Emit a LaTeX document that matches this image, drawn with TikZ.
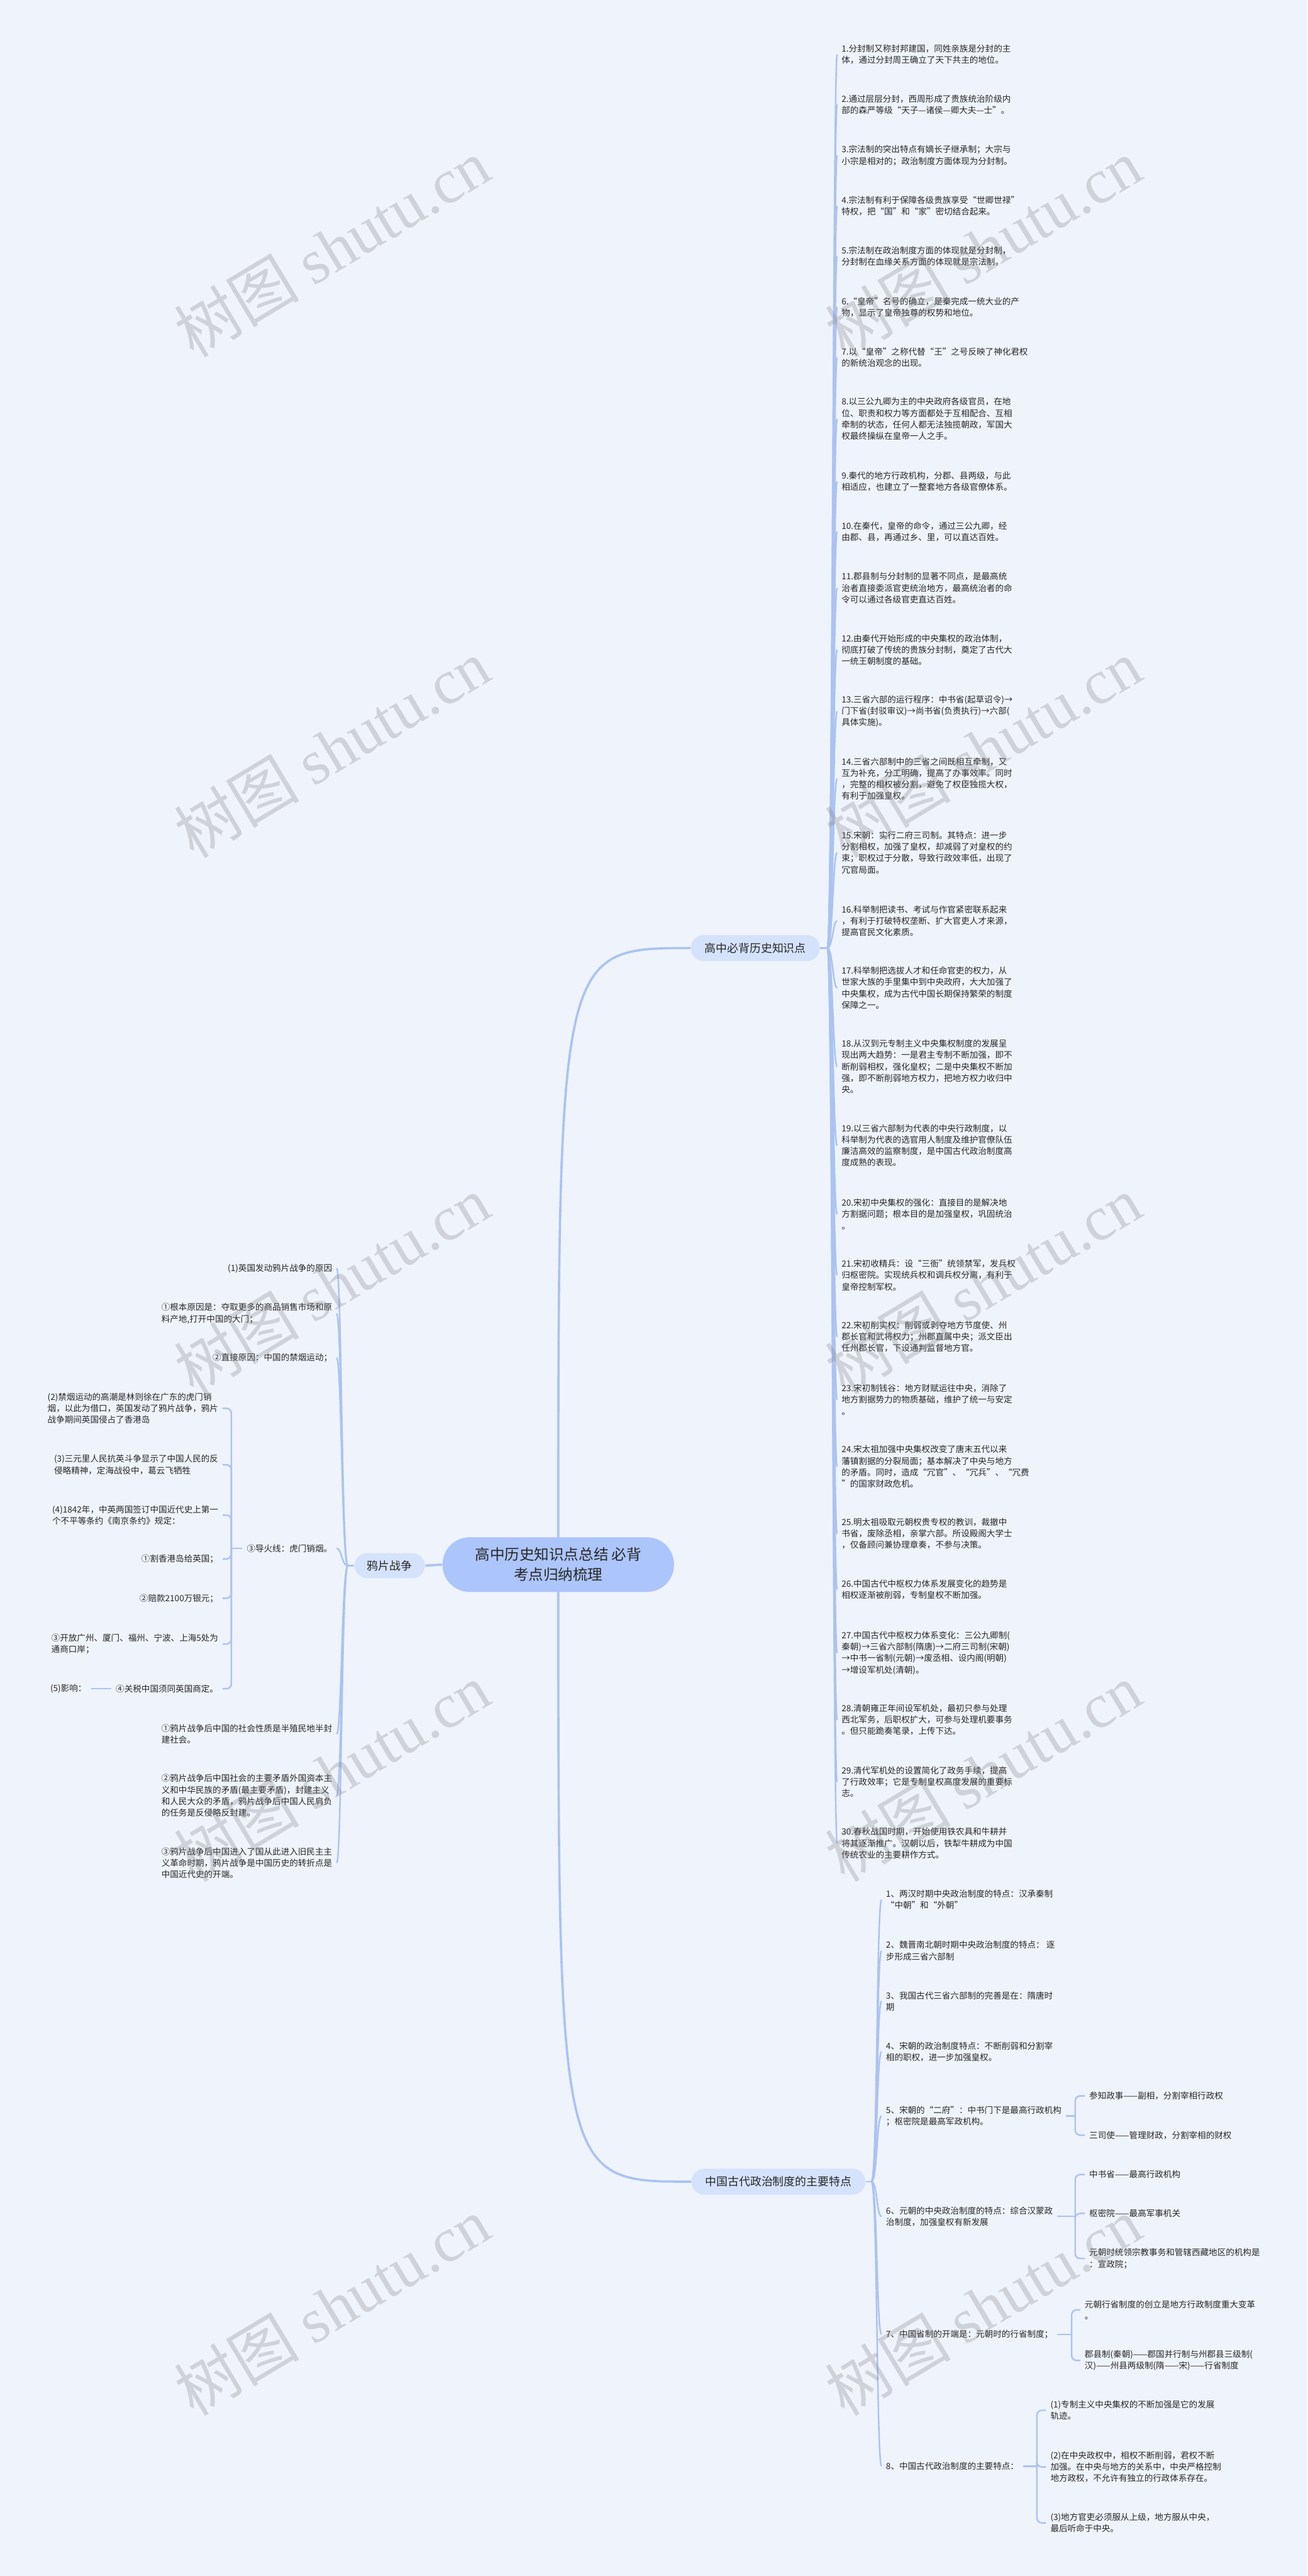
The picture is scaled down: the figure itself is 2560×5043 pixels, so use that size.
\documentclass[tikz,border=0pt]{standalone}
\usepackage{fontspec}
\setmainfont{Noto Sans CJK SC}
\newfontfamily\wmlatin{Liberation Serif}
\usetikzlibrary{backgrounds}
\definecolor{bgc}{RGB}{239,243,252}
\definecolor{lnc}{RGB}{170,195,242}
\definecolor{cfill}{RGB}{172,197,250}
\definecolor{bfill}{RGB}{212,226,252}
\definecolor{txc}{RGB}{40,40,40}
\newcommand\leaff{\fontsize{4.75pt}{6.37pt}\selectfont}
\newcommand\brf{\fontsize{6.26pt}{7pt}\selectfont}
\newcommand\ctrf{\fontsize{8.25pt}{11.1pt}\selectfont}
\newcommand\wmf{\fontsize{35pt}{36pt}\selectfont}
\tikzset{
 leaf/.style={inner xsep=0.08cm, inner ysep=0.02cm, align=left, font=\leaff, text=txc, anchor=west},
 leafr/.style={leaf, anchor=east},
 con/.style={draw=lnc, line width=0.03cm},
 maincon/.style={draw=lnc, line width=0.045cm},
 brk/.style={draw=lnc, line width=0.03cm, rounded corners=0.1cm},
 branch/.style={fill=bfill, rounded corners=0.25cm, font=\brf, text=txc, inner sep=0pt, minimum height=0.51cm},
 wm/.style={rotate=31, text=gray, opacity=0.28, font=\wmf}
}
\begin{document}
\begin{tikzpicture}[x=0.01cm,y=-0.01cm]
\useasboundingbox (0,0) rectangle (2560,5043);

% ---- central and branch nodes
\node[fill=cfill, rounded corners=0.53cm, minimum width=4.53cm, minimum height=1.07cm, align=center, font=\ctrf, text=txc, inner sep=0pt] (ctr) at (1093,3063) {高中历史知识点总结 必背\\考点归纳梳理};
\node[branch, minimum width=2.52cm] (b1) at (1479,1856) {高中必背历史知识点};
\node[branch, minimum width=3.40cm] (b2) at (1524,4271) {中国古代政治制度的主要特点};
\node[branch, minimum width=1.38cm, minimum height=0.49cm] (b3) at (763,3065) {鸦片战争};

% ---- right column
\node[leaf] (r1) at (1639,106.5) {1.分封制又称封邦建国，同姓亲族是分封的主\\体，通过分封周王确立了天下共主的地位。};
\node[leaf] (r2) at (1639,204.5) {2.通过层层分封，西周形成了贵族统治阶级内\\部的森严等级“天子—诸侯—卿大夫—士”。};
\node[leaf] (r3) at (1639,304.5) {3.宗法制的突出特点有嫡长子继承制；大宗与\\小宗是相对的；政治制度方面体现为分封制。};
\node[leaf] (r4) at (1639,403.5) {4.宗法制有利于保障各级贵族享受“世卿世禄”\\特权，把“国”和“家”密切结合起来。};
\node[leaf] (r5) at (1639,501.5) {5.宗法制在政治制度方面的体现就是分封制，\\分封制在血缘关系方面的体现就是宗法制。};
\node[leaf] (r6) at (1639,601) {6.“皇帝”名号的确立，是秦完成一统大业的产\\物，显示了皇帝独尊的权势和地位。};
\node[leaf] (r7) at (1639,700) {7.以“皇帝”之称代替“王”之号反映了神化君权\\的新统治观念的出现。};
\node[leaf] (r8) at (1639,820) {8.以三公九卿为主的中央政府各级官员，在地\\位、职责和权力等方面都处于互相配合、互相\\牵制的状态，任何人都无法独揽朝政，军国大\\权最终操纵在皇帝一人之手。};
\node[leaf] (r9) at (1639,942.5) {9.秦代的地方行政机构，分郡、县两级，与此\\相适应，也建立了一整套地方各级官僚体系。};
\node[leaf] (r10) at (1639,1040.5) {10.在秦代，皇帝的命令，通过三公九卿，经\\由郡、县，再通过乡、里，可以直达百姓。};
\node[leaf] (r11) at (1639,1151) {11.郡县制与分封制的显著不同点，是最高统\\治者直接委派官吏统治地方，最高统治者的命\\令可以通过各级官吏直达百姓。};
\node[leaf] (r12) at (1639,1272) {12.由秦代开始形成的中央集权的政治体制，\\彻底打破了传统的贵族分封制，奠定了古代大\\一统王朝制度的基础。};
\node[leaf] (r13) at (1639,1392.5) {13.三省六部的运行程序：中书省(起草诏令)→\\门下省(封驳审议)→尚书省(负责执行)→六部(\\具体实施)。};
\node[leaf] (r14) at (1639,1524.5) {14.三省六部制中的三省之间既相互牵制，又\\互为补充，分工明确，提高了办事效率。同时\\，完整的相权被分割，避免了权臣独揽大权，\\有利于加强皇权。};
\node[leaf] (r15) at (1639,1669) {15.宋朝：实行二府三司制。其特点：进一步\\分割相权，加强了皇权，却减弱了对皇权的约\\束；职权过于分散，导致行政效率低，出现了\\冗官局面。};
\node[leaf] (r16) at (1639,1802.5) {16.科举制把读书、考试与作官紧密联系起来\\，有利于打破特权垄断、扩大官吏人才来源，\\提高官民文化素质。};
\node[leaf] (r17) at (1639,1934) {17.科举制把选拔人才和任命官吏的权力，从\\世家大族的手里集中到中央政府，大大加强了\\中央集权，成为古代中国长期保持繁荣的制度\\保障之一。};
\node[leaf] (r18) at (1639,2088) {18.从汉到元专制主义中央集权制度的发展呈\\现出两大趋势：一是君主专制不断加强，即不\\断削弱相权，强化皇权；二是中央集权不断加\\强，即不断削弱地方权力，把地方权力收归中\\央。};
\node[leaf] (r19) at (1639,2242.5) {19.以三省六部制为代表的中央行政制度，以\\科举制为代表的选官用人制度及维护官僚队伍\\廉洁高效的监察制度，是中国古代政治制度高\\度成熟的表现。};
\node[leaf] (r20) at (1639,2377) {20.宋初中央集权的强化：直接目的是解决地\\方割据问题；根本目的是加强皇权，巩固统治\\。};
\node[leaf] (r21) at (1639,2496.5) {21.宋初收精兵：设“三衙”统领禁军，发兵权\\归枢密院。实现统兵权和调兵权分离，有利于\\皇帝控制军权。};
\node[leaf] (r22) at (1639,2617) {22.宋初削实权：削弱或剥夺地方节度使、州\\郡长官和武将权力；州郡直属中央；派文臣出\\任州郡长官，下设通判监督地方官。};
\node[leaf] (r23) at (1639,2740) {23.宋初制钱谷：地方财赋运往中央，消除了\\地方割据势力的物质基础，维护了统一与安定\\。};
\node[leaf] (r24) at (1639,2871) {24.宋太祖加强中央集权改变了唐末五代以来\\藩镇割据的分裂局面；基本解决了中央与地方\\的矛盾。同时，造成“冗官”、“冗兵”、“冗费\\”的国家财政危机。};
\node[leaf] (r25) at (1639,3002.5) {25.明太祖吸取元朝权贵专权的教训，裁撤中\\书省，废除丞相，亲掌六部。所设殿阁大学士\\，仅备顾问兼协理章奏，不参与决策。};
\node[leaf] (r26) at (1639,3112) {26.中国古代中枢权力体系发展变化的趋势是\\相权逐渐被削弱，专制皇权不断加强。};
\node[leaf] (r27) at (1639,3236) {27.中国古代中枢权力体系变化：三公九卿制(\\秦朝)→三省六部制(隋唐)→二府三司制(宋朝)\\→中书一省制(元朝)→废丞相、设内阁(明朝)\\→增设军机处(清朝)。};
\node[leaf] (r28) at (1639,3367) {28.清朝雍正年间设军机处，最初只参与处理\\西北军务，后职权扩大，可参与处理机要事务\\。但只能跪奏笔录，上传下达。};
\node[leaf] (r29) at (1639,3488.5) {29.清代军机处的设置简化了政务手续，提高\\了行政效率；它是专制皇权高度发展的重要标\\志。};
\node[leaf] (r30) at (1639,3608.5) {30.春秋战国时期，开始使用铁农具和牛耕并\\将其逐渐推广。汉朝以后，铁犁牛耕成为中国\\传统农业的主要耕作方式。};

% ---- bottom branch
\node[leaf] (d1) at (1726,3719) {1、两汉时期中央政治制度的特点：汉承秦制\\“中朝”和“外朝”};
\node[leaf] (d2) at (1726,3819) {2、魏晋南北朝时期中央政治制度的特点： 逐\\步形成三省六部制};
\node[leaf] (d3) at (1726,3917.5) {3、我国古代三省六部制的完善是在：隋唐时\\期};
\node[leaf] (d4) at (1726,4016.5) {4、宋朝的政治制度特点：不断削弱和分割宰\\相的职权，进一步加强皇权。};
\node[leaf] (d5) at (1726,4142.5) {5、宋朝的“二府”：中书门下是最高行政机构\\；枢密院是最高军政机构。};
\node[leaf] (d6) at (1726,4339) {6、元朝的中央政治制度的特点：综合汉蒙政\\治制度，加强皇权有新发展};
\node[leaf] (d7) at (1726,4570) {7、中国省制的开端是：元朝时的行省制度；};
\node[leaf] (d8) at (1726,4828) {8、中国古代政治制度的主要特点：};

\node[leaf] (e51) at (2124,4103) {参知政事——副相，分割宰相行政权};
\node[leaf] (e52) at (2124,4180) {三司使——管理财政，分割宰相的财权};
\node[leaf] (e61) at (2124,4257) {中书省——最高行政机构};
\node[leaf] (e62) at (2124,4333) {枢密院——最高军事机关};
\node[leaf] (e63) at (2124,4421.5) {元朝时统领宗教事务和管辖西藏地区的机构是\\：宣政院；};
\node[leaf] (e71) at (2115,4522) {元朝行省制度的创立是地方行政制度重大变革\\。};
\node[leaf] (e72) at (2115,4621) {郡县制(秦朝)——郡国并行制与州郡县三级制(\\汉)——州县两级制(隋——宋)——行省制度};
\node[leaf] (e81) at (2048,4718.5) {(1)专制主义中央集权的不断加强是它的发展\\轨迹。};
\node[leaf] (e82) at (2048,4829.5) {(2)在中央政权中，相权不断削弱，君权不断\\加强。在中央与地方的关系中，中央严格控制\\地方政权，不允许有独立的行政体系存在。};
\node[leaf] (e83) at (2048,4939) {(3)地方官吏必须服从上级，地方服从中央，\\最后听命于中央。};

% ---- left branch
\node[leafr] (a1) at (659,2483) {(1)英国发动鸦片战争的原因};
\node[leafr] (a2) at (659,2571.5) {①根本原因是：夺取更多的商品销售市场和原\\料产地,打开中国的大门；};
\node[leafr] (a3) at (659,2658) {②直接原因：中国的禁烟运动；};
\node[leafr] (a4) at (659,3031) {③导火线：虎门销烟。};
\node[leafr] (a5) at (659,3394.5) {①鸦片战争后中国的社会性质是半殖民地半封\\建社会。};
\node[leafr] (a6) at (659,3515) {②鸦片战争后中国社会的主要矛盾外国资本主\\义和中华民族的矛盾(最主要矛盾)，封建主义\\和人民大众的矛盾，鸦片战争后中国人民肩负\\的任务是反侵略反封建。};
\node[leafr] (a7) at (659,3647) {③鸦片战争后中国进入了国从此进入旧民主主\\义革命时期，鸦片战争是中国历史的转折点是\\中国近代史的开端。};

\node[leafr] (c1) at (436,2757) {(2)禁烟运动的高潮是林则徐在广东的虎门销\\烟，以此为借口，英国发动了鸦片战争，鸦片\\战争期间英国侵占了香港岛};
\node[leafr] (c2) at (436,2867.5) {(3)三元里人民抗英斗争显示了中国人民的反\\侵略精神，定海战役中，葛云飞牺牲};
\node[leafr] (c3) at (436,2966) {(4)1842年，中英两国签订中国近代史上第一\\个不平等条约《南京条约》规定：};
\node[leafr] (c4) at (436,3052) {①割香港岛给英国；};
\node[leafr] (c5) at (436,3129) {②赔款2100万银元；};
\node[leafr] (c6) at (436,3218.5) {③开放广州、厦门、福州、宁波、上海5处为\\通商口岸；};
\node[leafr] (c7) at (436,3306) {④关税中国须同英国商定。};
\node[leafr] (f1) at (178,3306) {(5)影响：};

\coordinate (j1) at (1620,1856);
\coordinate (j2) at (1706,4271);
\coordinate (j3) at (681,3065);
\coordinate (j4) at (453,3031);
\coordinate (j5) at (2105,4142.5);
\coordinate (j6) at (2105,4339);
\coordinate (j7) at (2098,4570);
\coordinate (j8) at (2030,4828);

% ---- connectors
\begin{pgfonlayer}{background}
\fill[bgc] (0,0) rectangle (2560,5043);
\draw[maincon] (ctr.center) .. controls (1093,1856) .. (b1.west);
\draw[maincon] (ctr.center) .. controls (1093,4271) .. (b2.west);
\draw[maincon] (ctr.west) -- (b3.east);
\draw[con] (b1.east) -- (j1);
\foreach \i in {1,...,30} {
  \draw[con] (j1) .. controls +(10,0) and +(-8,0) .. (r\i.west);
}
\draw[con] (b2.east) -- (j2);
\foreach \i in {1,...,8} {
  \draw[con] (j2) .. controls +(12,0) and +(-10,0) .. (d\i.west);
}
\draw[con] (b3.west) -- (j3);
\foreach \i in {1,...,7} {
  \draw[con] (j3) .. controls +(-12,0) and +(10,0) .. (a\i.east);
}
\draw[con] (a4.west) -- (j4);
\foreach \i in {1,...,7} { \draw[brk] (j4) |- (c\i.east); }
\draw[con] (c7.west) -- (f1.east);
\draw[con] (d5.east) -- (j5);
\draw[brk] (j5) |- (e51.west);
\draw[brk] (j5) |- (e52.west);
\draw[con] (d6.east) -- (j6);
\draw[brk] (j6) |- (e61.west);
\draw[brk] (j6) |- (e62.west);
\draw[brk] (j6) |- (e63.west);
\draw[con] (d7.east) -- (j7);
\draw[brk] (j7) |- (e71.west);
\draw[brk] (j7) |- (e72.west);
\draw[con] (d8.east) -- (j8);
\draw[brk] (j8) |- (e81.west);
\draw[brk] (j8) |- (e82.west);
\draw[brk] (j8) |- (e83.west);
\end{pgfonlayer}

% ---- watermarks
\foreach \yy in {485,1465,2515,3470,4515} {
  \node[wm] (wl\yy) at (650,\yy) {树图 {\wmlatin shutu.cn}};
  \node[wm] (wr\yy) at (1925,\yy) {树图 {\wmlatin shutu.cn}};
}
\end{tikzpicture}
\end{document}
